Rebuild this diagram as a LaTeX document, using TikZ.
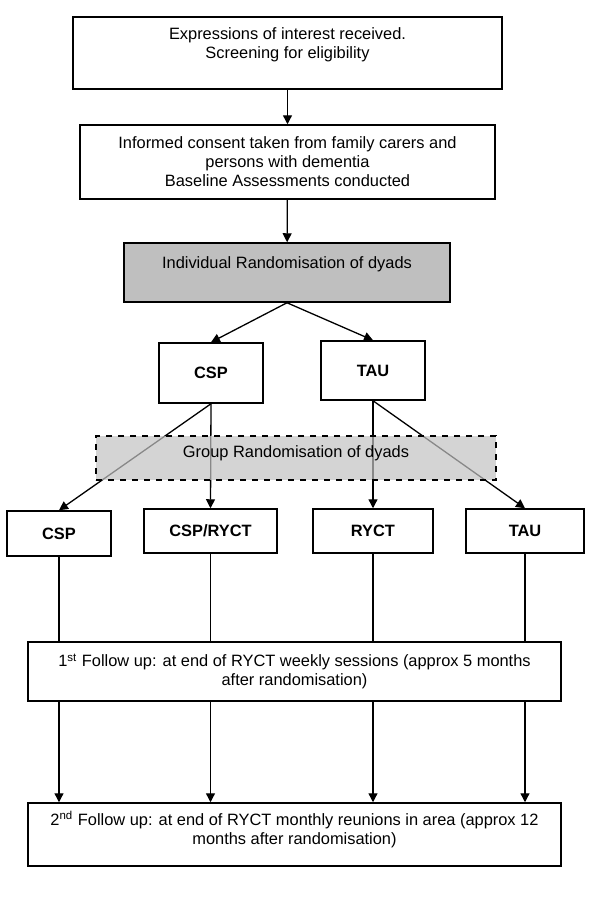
\documentclass[tikz,border=0pt]{standalone}
\usepackage{fontspec}
\setmainfont{Liberation Sans}
\usepackage{tikz}
\usetikzlibrary{arrows.meta}

\begin{document}
\begin{tikzpicture}[x=0.5pt, y=-0.5pt,
    box/.style = {draw, line width=0.75pt, fill=white, inner sep=0pt, align=center,
                  font = {\fontsize{8.2}{9.5}\selectfont}},
    armbox/.style = {box, font = {\fontsize{8.2}{9.5}\selectfont\bfseries}},
    flow/.style = {line width=0.65pt, -{Triangle[length=4.5pt, width=4.5pt]}},
    plain/.style = {line width=0.65pt}]
        \useasboundingbox (0, 0) rectangle (600, 901);

        \node[box, minimum width=214.5pt, minimum height=36pt] (expr) at (287.5, 53)
            {Expressions of interest received.\\Screening for eligibility\\\mbox{}};
        \node[box, minimum width=207.5pt, minimum height=37pt] (consent) at (287.5, 162)
            {Informed consent taken from family carers and\\persons with dementia\\Baseline Assessments conducted};
        \node[box, fill=black!25, minimum width=163pt, minimum height=29.5pt] (indrand) at (287, 272.5)
            {Individual Randomisation of dyads\\\mbox{}};
        \node[armbox, minimum width=52pt, minimum height=30pt] (cspA) at (211, 373) {CSP};
        \node[armbox, minimum width=52pt, minimum height=29.5pt] (tauA) at (373, 370.5) {TAU};

        \node[armbox, minimum width=52pt, minimum height=22.5pt] (cspB) at (59, 533.5) {CSP};
        \node[armbox, minimum width=66.5pt, minimum height=22pt] (csprycr) at (210.5, 531) {CSP/RYCT};
        \node[armbox, minimum width=60pt, minimum height=22pt] (rycr) at (373, 531) {RYCT};
        \node[armbox, minimum width=59pt, minimum height=22pt] (tauB) at (525, 531) {TAU};

        \node[box, minimum width=266.5pt, minimum height=29.5pt] (fuA) at (294.5, 671.5)
            {1\textsuperscript{st} Follow up: at end of RYCT weekly sessions (approx 5 months\\after randomisation)};
        \node[box, minimum width=266.5pt, minimum height=31.5pt] (fuB) at (294.5, 834.5)
            {2\textsuperscript{nd} Follow up: at end of RYCT monthly reunions in area (approx 12\\months after randomisation)\\[-3pt]\mbox{}};

        % first stages
        \draw[flow] (expr) -- (consent);
        \draw[flow] (consent) -- (indrand);
        \draw[flow] (indrand.south) -- (cspA.north);
        \draw[flow] (indrand.south) -- (tauA.north);

        % group randomisation
        \draw[flow] (cspA.south) -- (cspB.north);
        \draw[flow] (cspA.south) -- (csprycr.north);
        \draw[flow] (tauA.south) -- (rycr.north);
        \draw[flow] (tauA.south) -- (tauB.north);
        \node[box, dashed, fill=black!24, fill opacity=0.7, text opacity=1,
              minimum width=200pt, minimum height=22pt] (grprand) at (296, 458)
            {Group Randomisation of dyads\\[-3pt]\mbox{}};

        % follow ups
        \foreach \arm in {cspB, csprycr, rycr, tauB} {
            \draw[plain] (\arm.south) -- (\arm.south |- fuA.north);
            \draw[flow] (\arm.south |- fuA.south) -- (\arm.south |- fuB.north);
        }
\end{tikzpicture}
\end{document}
